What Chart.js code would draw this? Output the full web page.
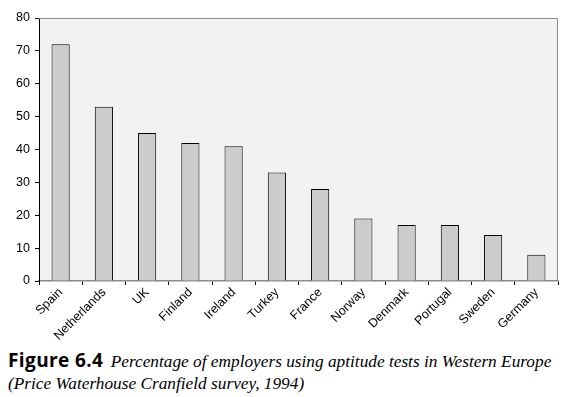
<!DOCTYPE html>
<html><head><meta charset="utf-8">
<script src="https://cdn.jsdelivr.net/npm/chart.js@4.4.0/dist/chart.umd.min.js"></script>
<style>
html,body{margin:0;padding:0;background:#fff;width:565px;height:397px;overflow:hidden}
#wrap{position:absolute;left:0;top:0;width:565px;height:345px}
#cap{position:absolute;left:8px;top:349px;width:557px;font-family:'Liberation Serif','Times New Roman',serif;font-style:italic;font-size:17.3px;line-height:22px;color:#000;white-space:nowrap}
#cap b{font-family:'Open Sans',sans-serif;font-style:normal;font-weight:700;font-size:19px;letter-spacing:0.4px;margin-right:3px}
</style></head>
<body>
<div id="wrap"><canvas id="c" width="565" height="345"></canvas></div>
<div id="cap"><b>Figure 6.4</b> Percentage of employers using aptitude tests in Western Europe<br>(Price Waterhouse Cranfield survey, 1994)</div>
<script>
const categories = ["Spain","Netherlands","UK","Finland","Ireland","Turkey","France","Norway","Denmark","Portugal","Sweden","Germany"];
const values = [72,53,45,42,41,33,28,19,17,17,14,8];
const yTicks = [0,10,20,30,40,50,60,70,80];

const areaPlugin = {
  id:'area',
  beforeDraw(chart){
    const {ctx, chartArea:a} = chart;
    ctx.save();
    ctx.fillStyle = '#f2f2f2';
    ctx.fillRect(a.left, a.top, a.right-a.left, a.bottom-a.top);
    ctx.restore();
  },
  afterDraw(chart){
    const {ctx, chartArea:a} = chart;
    ctx.save();
    ctx.strokeStyle = '#8c8c8c';
    ctx.lineWidth = 1;
    ctx.beginPath();
    ctx.moveTo(a.left, a.top+0.5); ctx.lineTo(a.right-0.5, a.top+0.5); ctx.lineTo(a.right-0.5, a.bottom);
    ctx.stroke();
    ctx.restore();
  }
};

const tickFont = {family:'Arial', size:12.5};

new Chart(document.getElementById('c'), {
  type:'bar',
  data:{labels:categories, datasets:[{data:values, backgroundColor:'#cccccc', borderColor:'#000', borderWidth:1, categoryPercentage:1, barPercentage:0.42}]},
  options:{
    responsive:false, animation:false, devicePixelRatio:1,
    layout:{padding:{top:18,right:7,left:0,bottom:0}},
    plugins:{legend:{display:false}, tooltip:{enabled:false}},
    scales:{
      x:{
        grid:{display:true, offset:true, drawOnChartArea:false, drawTicks:true, tickLength:4, color:'#000'},
        border:{display:true, color:'#8c8c8c', width:1.5},
        ticks:{color:'#000', font:tickFont, maxRotation:45, minRotation:45, padding:0, autoSkip:false},
        afterFit(s){ s.height = 64; }
      },
      y:{
        min:0, max:80,
        afterBuildTicks(s){ s.ticks = yTicks.map(v=>({value:v})); },
        grid:{display:true, drawOnChartArea:false, drawTicks:true, tickLength:4, color:'#000'},
        border:{display:true, color:'#000', width:1},
        ticks:{color:'#000', font:tickFont, padding:5},
        afterFit(s){ s.width = 39; }
      }
    }
  },
  plugins:[areaPlugin]
});
</script>
</body></html>
